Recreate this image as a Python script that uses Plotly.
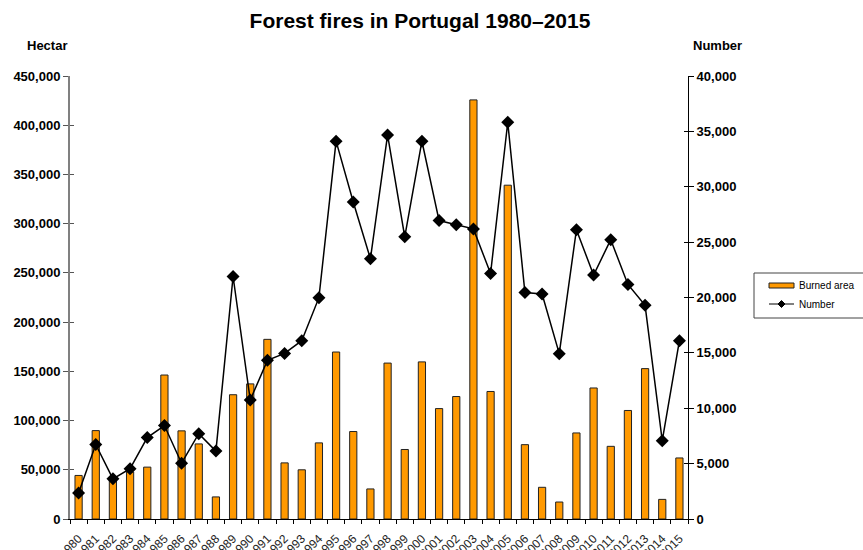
import plotly.graph_objects as go

years = [str(y) for y in range(1980, 2016)]
burned_area = [44251, 89798, 39556, 47811, 52710, 146254, 89522, 76269, 22434, 126237,
               137252, 182486, 57011, 49963, 77323, 169612, 88867, 30535, 158369, 70613,
               159605, 112166, 124411, 425726, 129539, 339089, 75510, 32200, 17244, 87421,
               133090, 73813, 110231, 152756, 19929, 62000]
fire_count = [2349, 6730, 3626, 4542, 7356, 8441, 5036, 7705, 6131, 21896,
              10745, 14327, 14954, 16101, 19983, 34116, 28626, 23497, 34676, 25477,
              34109, 26947, 26576, 26195, 22165, 35824, 20444, 20316, 14930, 26119,
              22026, 25221, 21176, 19291, 7067, 16100]
legend_labels = ["Burned area", "Number"]

FONT = "Liberation Sans, Arial, sans-serif"

W, H = 863, 550
PL, PR, PT, PB = 70, 688, 76, 519  # plot area in pixels


def px_to_paper(px, py):
    return (px - PL) / (PR - PL), (PB - py) / (PB - PT)


fig = go.Figure()
fig.add_trace(go.Bar(
    x=years, y=burned_area, name=legend_labels[0],
    marker=dict(color="#FF9900", line=dict(color="#222222", width=1)),
    yaxis="y", showlegend=False,
))
fig.add_trace(go.Scatter(
    x=years, y=fire_count, name=legend_labels[1], mode="lines+markers",
    line=dict(color="black", width=1.5),
    marker=dict(symbol="diamond", size=10, color="black"),
    yaxis="y2", showlegend=False,
))
# invisible helpers so the inside halves of the crossing y ticks get drawn
fig.add_trace(go.Scatter(x=[years[0]], y=[0], yaxis="y3", mode="markers",
                         marker=dict(opacity=0), showlegend=False, hoverinfo="skip"))
fig.add_trace(go.Scatter(x=[years[0]], y=[0], yaxis="y4", mode="markers",
                         marker=dict(opacity=0), showlegend=False, hoverinfo="skip"))

annotations = []
shapes = []

for text, (px, py) in [("<b>Hectar</b>", (47, 46)), ("<b>Number</b>", (717, 46))]:
    ax, ay = px_to_paper(px, py)
    annotations.append(dict(text=text, x=ax, y=ay, xref="paper", yref="paper",
                            xanchor="center", yanchor="middle",
                            showarrow=False, font=dict(size=13, family=FONT)))

# manual legend (box, swatches, labels)
bx0, by0 = px_to_paper(754, 273)
bx1, by1 = px_to_paper(880, 318)
shapes.append(dict(type="rect", xref="paper", yref="paper", x0=bx0, y0=by0, x1=bx1, y1=by1,
                   line=dict(color="#444444", width=1), fillcolor="white", layer="above"))
sx0, sy0 = px_to_paper(769, 283)
sx1, sy1 = px_to_paper(794, 288)
shapes.append(dict(type="rect", xref="paper", yref="paper", x0=sx0, y0=sy0, x1=sx1, y1=sy1,
                   line=dict(color="#222222", width=1), fillcolor="#FF9900", layer="above"))
lx0, ly = px_to_paper(769, 304)
lx1, _ = px_to_paper(794, 304)
shapes.append(dict(type="line", xref="paper", yref="paper", x0=lx0, y0=ly, x1=lx1, y1=ly,
                   line=dict(color="black", width=1), layer="above"))
dcx, dcy = px_to_paper(781.5, 304)
dw = 3.5 / (PR - PL)
dh = 3.5 / (PB - PT)
shapes.append(dict(type="path", xref="paper", yref="paper", layer="above",
                   path=f"M {dcx-dw} {dcy} L {dcx} {dcy+dh} L {dcx+dw} {dcy} L {dcx} {dcy-dh} Z",
                   fillcolor="black", line=dict(color="black", width=1)))
for label, py in zip(legend_labels, [285.5, 304]):
    tx, ty = px_to_paper(797, py)
    annotations.append(dict(text=label, x=tx, y=ty, xref="paper", yref="paper",
                            xanchor="left", yanchor="middle", showarrow=False,
                            font=dict(size=10, family=FONT)))

fig.update_layout(
    width=W, height=H,
    margin=dict(l=PL, r=W - PR, t=PT, b=H - PB, autoexpand=False),
    paper_bgcolor="white", plot_bgcolor="white",
    font=dict(family=FONT, color="black"),
    title=dict(text="<b>Forest fires in Portugal 1980–2015</b>",
               x=420 / W, xanchor="center",
               y=1 - 21 / H, yanchor="middle", font=dict(size=21, family=FONT)),
    bargap=0.58,
    showlegend=False,
    xaxis=dict(type="category", range=[-0.5, len(years) - 0.5], tickangle=-45,
               tickson="boundaries",
               ticks="outside", ticklen=4, tickcolor="black",
               ticklabelstandoff=7,
               showline=True, linecolor="black", linewidth=1,
               tickfont=dict(size=12, family=FONT, color="#222222"),
               showgrid=False, automargin=False),
    yaxis=dict(range=[0, 450000], dtick=50000, tickformat=",",
               ticks="outside", ticklen=5, tickcolor="#555555",
               showline=True, linecolor="#808080", linewidth=2,
               showgrid=False, zeroline=False,
               tickfont=dict(size=13, family=FONT, weight="bold"),
               automargin=False),
    yaxis2=dict(range=[0, 40000], dtick=5000, tickformat=",", overlaying="y", side="right",
                ticks="outside", ticklen=5, tickcolor="black",
                showline=True, linecolor="black", linewidth=1,
                showgrid=False, zeroline=False,
                tickfont=dict(size=13, family=FONT, weight="bold"),
                automargin=False),
    yaxis3=dict(range=[0, 450000], dtick=50000, overlaying="y", side="left",
                ticks="inside", ticklen=4, tickcolor="#555555", showticklabels=False,
                showline=False, showgrid=False, zeroline=False, automargin=False),
    yaxis4=dict(range=[0, 40000], dtick=5000, overlaying="y", side="right",
                ticks="inside", ticklen=4, tickcolor="black", showticklabels=False,
                showline=False, showgrid=False, zeroline=False, automargin=False),
    annotations=annotations,
    shapes=shapes,
)

# remove the browser's default 8px body margin so the figure fills the window exactly
fig.write_html("out.html", config={"displayModeBar": False},
               post_script="document.body.style.margin='0';")
